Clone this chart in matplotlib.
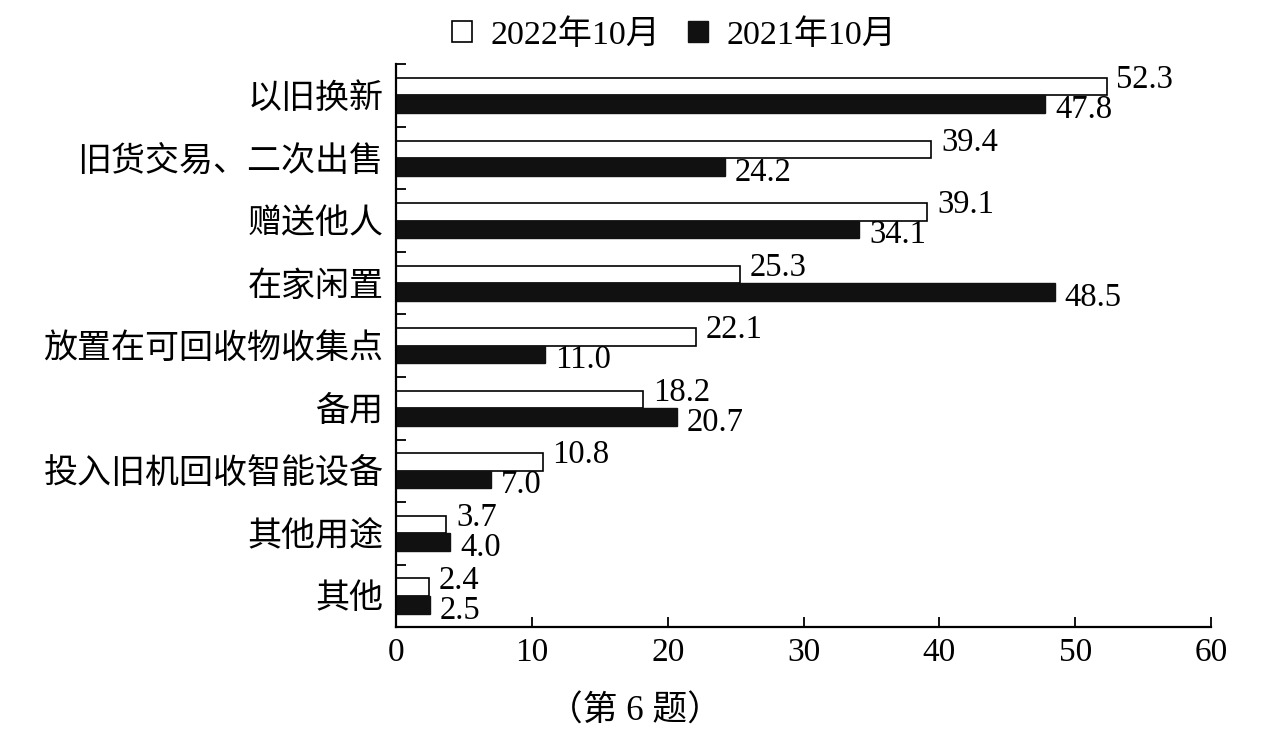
import matplotlib
matplotlib.use('Agg')
import matplotlib.pyplot as plt
from matplotlib.patches import Patch
import numpy as np

plt.rcParams['font.family'] = ['Liberation Serif', 'Noto Sans CJK SC']

categories = ['以旧换新', '旧货交易、二次出售', '赠送他人', '在家闲置', '放置在可回收物收集点',
              '备用', '投入旧机回收智能设备', '其他用途', '其他']
v2022 = [52.3, 39.4, 39.1, 25.3, 22.1, 18.2, 10.8, 3.7, 2.4]
v2021 = [47.8, 24.2, 34.1, 48.5, 11.0, 20.7, 7.0, 4.0, 2.5]
xticks = [0, 10, 20, 30, 40, 50, 60]

fig = plt.figure(figsize=(12.67, 7.38), dpi=100)
ax = fig.add_axes([0.3125, 0.150, 0.6435, 0.763])

y = np.arange(len(categories))
h = 0.28
ax.barh(y - h / 2, v2022, height=h, color='white', edgecolor='black', linewidth=1.2)
ax.barh(y + h / 2, v2021, height=h, color='#111111', edgecolor='#111111', linewidth=1.0)

for yi, a, b in zip(y, v2022, v2021):
    ax.annotate(f'{a:.1f}', (a, yi - h / 2), xytext=(7, 5), textcoords='offset points',
                ha='left', va='center', fontsize=23.5)
    ax.annotate(f'{b:.1f}', (b, yi + h / 2), xytext=(7, -4), textcoords='offset points',
                ha='left', va='center', fontsize=23.5)

ax.set_xlim(0, 60)
ax.set_ylim(len(categories) - 0.5, -0.5)
ax.set_xticks(xticks)
ax.set_xticklabels([str(t) for t in xticks], fontsize=24)
ax.set_yticks(y)
ax.set_yticklabels(categories, fontsize=24.5)
ax.set_yticks(np.arange(len(categories) + 1) - 0.5, minor=True)
ax.tick_params(axis='y', which='major', length=0, pad=9)
ax.tick_params(axis='y', which='minor', direction='in', length=7, width=1.3)
ax.tick_params(axis='x', direction='in', length=7, width=1.3, pad=7)

for s in ['top', 'right']:
    ax.spines[s].set_visible(False)
for s in ['left', 'bottom']:
    ax.spines[s].set_linewidth(1.6)

handles = [Patch(facecolor='white', edgecolor='black', linewidth=1.2, label='2022年10月'),
           Patch(facecolor='#111111', edgecolor='#111111', label='2021年10月')]
fig.legend(handles=handles, loc='center', bbox_to_anchor=(0.532, 0.953), ncol=2,
           frameon=False, fontsize=24.5, handlelength=0.6, handleheight=0.6,
           handletextpad=0.55, columnspacing=0.8)

fig.text(0.501, 0.035, '（第 6 题）', ha='center', va='center', fontsize=25)

fig.savefig('out.png', dpi=100)
